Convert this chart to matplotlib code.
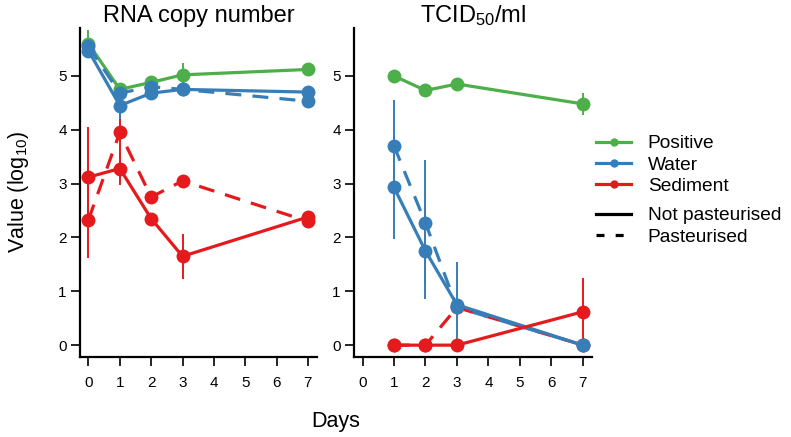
import numpy as np
import matplotlib
matplotlib.use("Agg")
import matplotlib.pyplot as plt
from matplotlib.lines import Line2D

plt.rcParams['font.family'] = ['Liberation Sans', 'DejaVu Sans']
plt.rcParams['mathtext.default'] = 'regular'

# colours (Set1)
GREEN = '#4DAF4A'
BLUE = '#377EB8'
RED = '#E41A1C'

# ---- RNA copy number panel ----
days_rna = [0, 1, 2, 3, 7]
rna_pos = [5.60, 4.75, 4.88, 5.02, 5.12]
rna_pos_err = [0.25, 0.0, 0.0, 0.22, 0.0]
rna_water_np = [5.47, 4.45, 4.68, 4.75, 4.70]
rna_water_np_err = [0.0, 0.25, 0.0, 0.0, 0.0]
rna_water_p = [5.55, 4.68, 4.80, 4.75, 4.53]
rna_water_p_err = [0.0, 0.0, 0.0, 0.0, 0.0]
rna_sed_np = [3.12, 3.28, 2.35, 1.65, 2.38]
rna_sed_np_err = [0.93, 0.31, 0.0, 0.42, 0.0]
rna_sed_p = [2.33, 3.95, 2.75, 3.05, 2.30]
rna_sed_p_err = [0.71, 0.55, 0.12, 0.0, 0.0]

# ---- TCID50/ml panel ----
days_tcid = [1, 2, 3, 7]
tcid_pos = [5.00, 4.73, 4.85, 4.48]
tcid_pos_err = [0.0, 0.0, 0.0, 0.20]
tcid_water_np = [2.93, 1.75, 0.75, 0.0]
tcid_water_np_err = [0.95, 0.90, 0.80, 0.0]
tcid_water_p = [3.70, 2.27, 0.70, 0.0]
tcid_water_p_err = [0.85, 1.16, 0.0, 0.0]
tcid_sed_np = [0.0, 0.0, 0.0, 0.62]
tcid_sed_np_err = [0.0, 0.0, 0.0, 0.62]
tcid_sed_p = [0.0, 0.0, 0.70, 0.0]
tcid_sed_p_err = [0.0, 0.0, 0.0, 0.0]

W, H = 791, 437
fig = plt.figure(figsize=(W / 100, H / 100), dpi=100)


def px_axes(x0, x1, y0, y1):
    return fig.add_axes([x0 / W, 1 - y1 / H, (x1 - x0) / W, (y1 - y0) / H])


def series(ax, x, y, err, color, dashed):
    ls = (0, (5, 3.5)) if dashed else '-'
    ax.errorbar(x, y, yerr=err, color=color, ecolor=color, elinewidth=1.4,
                capsize=0, linestyle=ls, linewidth=2.3, marker='o',
                markersize=10, markeredgewidth=0, dash_capstyle='butt')


def style(ax, title):
    ax.set_xlim(-0.27, 7.29)
    ax.set_ylim(-0.22, 5.89)
    for s in ['top', 'right']:
        ax.spines[s].set_visible(False)
    for s in ['left', 'bottom']:
        ax.spines[s].set_linewidth(1.6)
    ax.set_xticks(range(8))
    ax.set_yticks(range(6))
    ax.tick_params(direction='out', length=6.5, width=1.2, labelsize=11,
                   pad=3)
    ax.tick_params(axis='x', pad=7)
    ax.set_title(title, fontsize=17, pad=4)


ax1 = px_axes(80, 317, 28, 357)
series(ax1, days_rna, rna_pos, rna_pos_err, GREEN, False)
series(ax1, days_rna, rna_sed_p, rna_sed_p_err, RED, True)
series(ax1, days_rna, rna_water_p, rna_water_p_err, BLUE, True)
series(ax1, days_rna, rna_water_np, rna_water_np_err, BLUE, False)
series(ax1, days_rna, rna_sed_np, rna_sed_np_err, RED, False)
style(ax1, 'RNA copy number')

ax2 = px_axes(354, 592, 28, 357)
series(ax2, days_tcid, tcid_pos, tcid_pos_err, GREEN, False)
series(ax2, days_tcid, tcid_sed_p, tcid_sed_p_err, RED, True)
series(ax2, days_tcid, tcid_water_p, tcid_water_p_err, BLUE, True)
series(ax2, days_tcid, tcid_water_np, tcid_water_np_err, BLUE, False)
series(ax2, days_tcid, tcid_sed_np, tcid_sed_np_err, RED, False)
style(ax2, 'TCID$_{50}$/ml')

fig.text(19 / W, 1 - 192 / H, 'Value (log$_{10}$)', rotation=90,
         ha='center', va='center', fontsize=15.5)
fig.text(336 / W, 1 - 422 / H, 'Days', ha='center', va='center', fontsize=15.5)

# legend: sample type group and treatment group
dot = dict(lw=2.3, marker='o', markersize=6, markeredgewidth=0)
h_type = [Line2D([], [], color=c, **dot) for c in (GREEN, BLUE, RED)]
h_trt = [Line2D([], [], color='black', lw=2.3),
         Line2D([], [], color='black', lw=2.3, linestyle=(0, (2.5, 3.5)))]
leg_kw = dict(loc='upper left', frameon=False, fontsize=13.8, handlelength=1.85,
              handletextpad=0.85, borderaxespad=0, borderpad=0)
fig.legend(h_type, ['Positive', 'Water', 'Sediment'],
           bbox_to_anchor=(596 / W, 1 - 135 / H), labelspacing=0.2, **leg_kw)
fig.legend(h_trt, ['Not pasteurised', 'Pasteurised'],
           bbox_to_anchor=(596 / W, 1 - 207 / H), labelspacing=0.2, **leg_kw)

fig.savefig('out.png', dpi=100)
